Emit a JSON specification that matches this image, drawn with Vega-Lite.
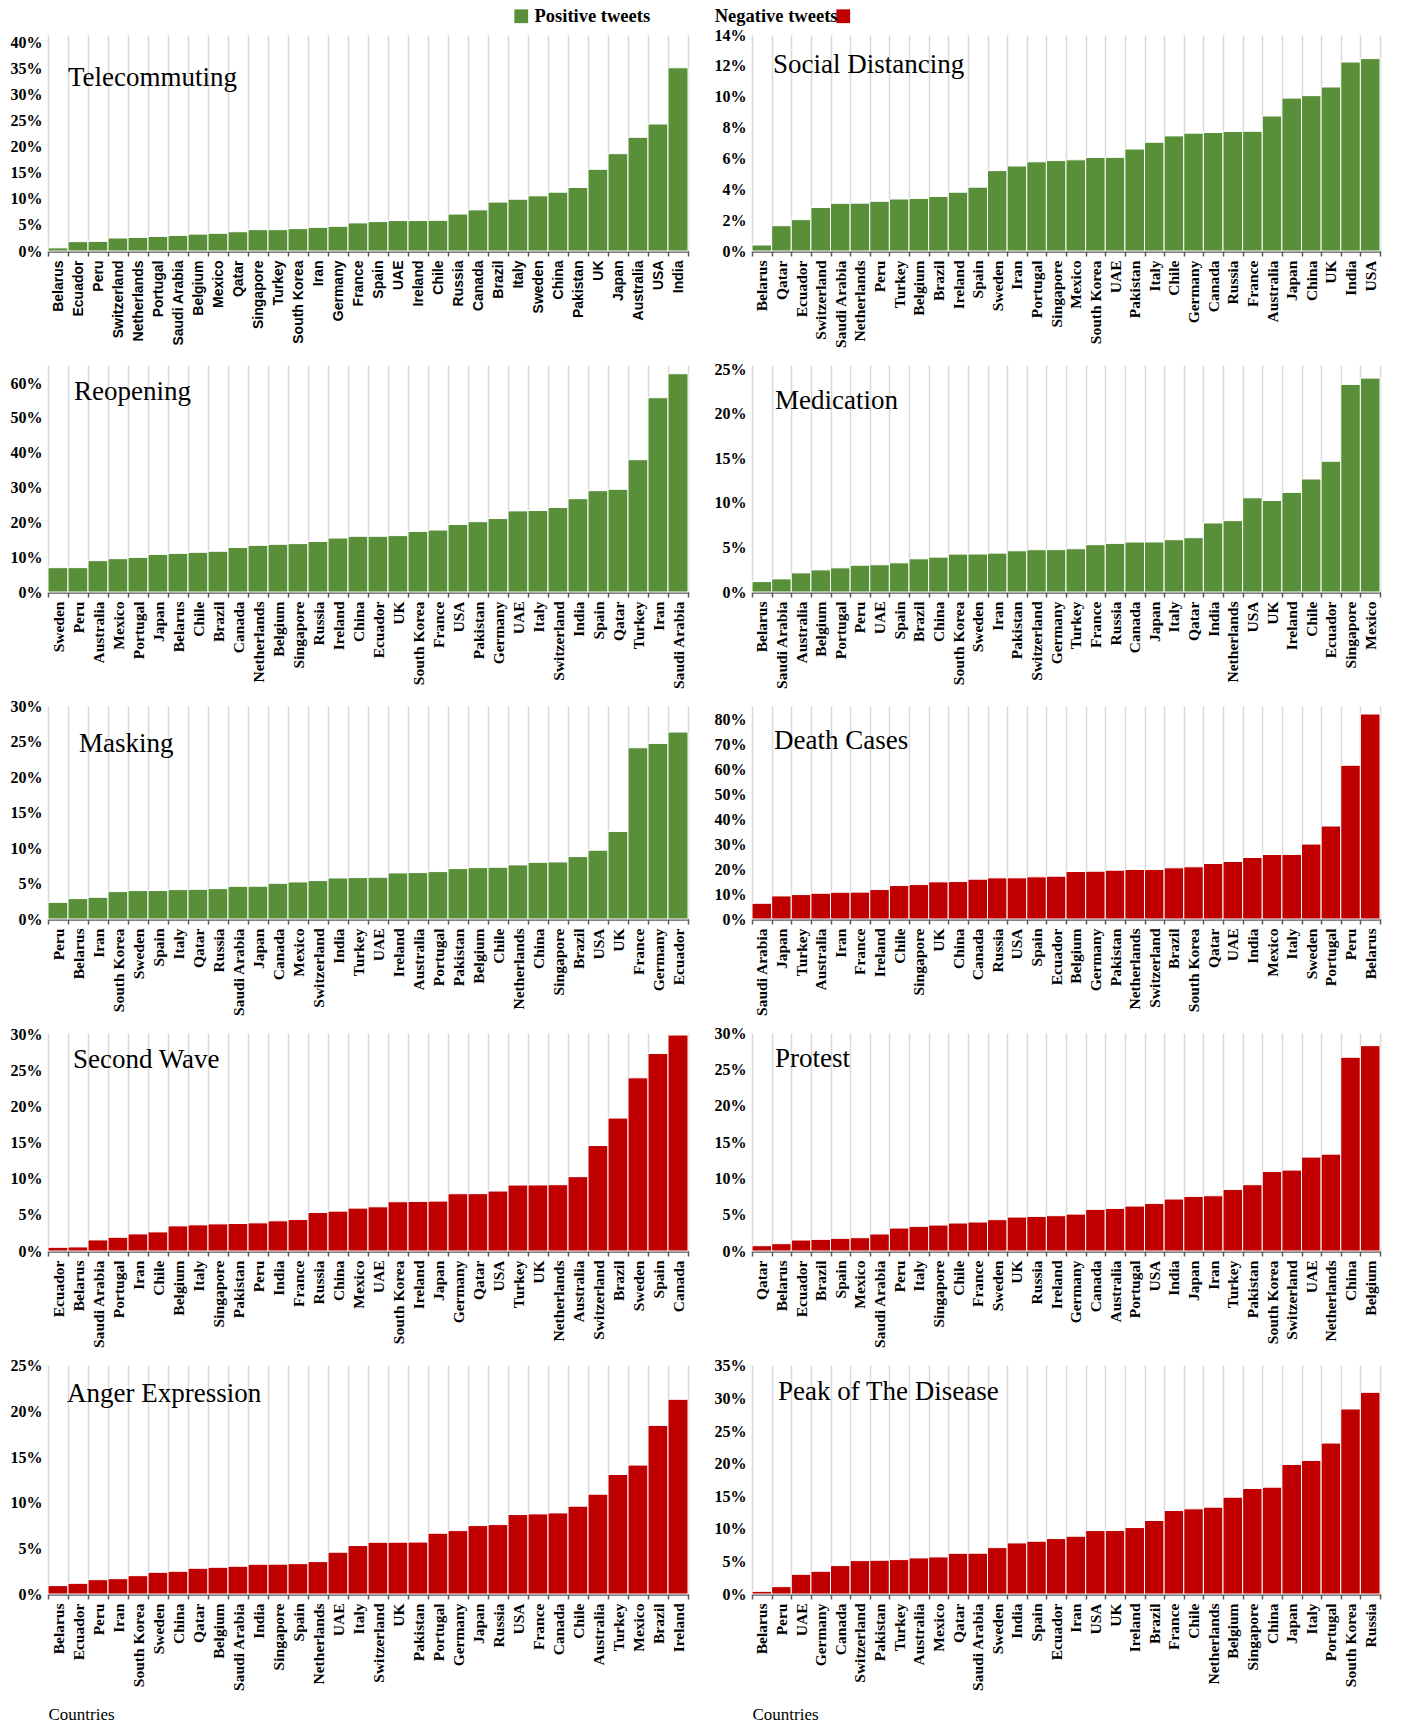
{
  "$schema": "https://vega.github.io/schema/vega-lite/v6.json",
  "background": "white",
  "padding": {"left": 10, "top": 7, "right": 5, "bottom": 5},
  "columns": 2,
  "spacing": {"row": 114, "column": 64},
  "bounds": "flush",
  "datasets": {
    "d": [
      {"t":"Telecommuting","c":"Belarus","v":0.6,"s":"Positive tweets"},
      {"t":"Telecommuting","c":"Ecuador","v":1.8,"s":"Positive tweets"},
      {"t":"Telecommuting","c":"Peru","v":1.85,"s":"Positive tweets"},
      {"t":"Telecommuting","c":"Switzerland","v":2.5,"s":"Positive tweets"},
      {"t":"Telecommuting","c":"Netherlands","v":2.6,"s":"Positive tweets"},
      {"t":"Telecommuting","c":"Portugal","v":2.8,"s":"Positive tweets"},
      {"t":"Telecommuting","c":"Saudi Arabia","v":3.0,"s":"Positive tweets"},
      {"t":"Telecommuting","c":"Belgium","v":3.25,"s":"Positive tweets"},
      {"t":"Telecommuting","c":"Mexico","v":3.4,"s":"Positive tweets"},
      {"t":"Telecommuting","c":"Qatar","v":3.7,"s":"Positive tweets"},
      {"t":"Telecommuting","c":"Singapore","v":4.1,"s":"Positive tweets"},
      {"t":"Telecommuting","c":"Turkey","v":4.1,"s":"Positive tweets"},
      {"t":"Telecommuting","c":"South Korea","v":4.3,"s":"Positive tweets"},
      {"t":"Telecommuting","c":"Iran","v":4.55,"s":"Positive tweets"},
      {"t":"Telecommuting","c":"Germany","v":4.75,"s":"Positive tweets"},
      {"t":"Telecommuting","c":"France","v":5.4,"s":"Positive tweets"},
      {"t":"Telecommuting","c":"Spain","v":5.65,"s":"Positive tweets"},
      {"t":"Telecommuting","c":"UAE","v":5.85,"s":"Positive tweets"},
      {"t":"Telecommuting","c":"Ireland","v":5.85,"s":"Positive tweets"},
      {"t":"Telecommuting","c":"Chile","v":5.9,"s":"Positive tweets"},
      {"t":"Telecommuting","c":"Russia","v":7.1,"s":"Positive tweets"},
      {"t":"Telecommuting","c":"Canada","v":7.9,"s":"Positive tweets"},
      {"t":"Telecommuting","c":"Brazil","v":9.4,"s":"Positive tweets"},
      {"t":"Telecommuting","c":"Italy","v":9.95,"s":"Positive tweets"},
      {"t":"Telecommuting","c":"Sweden","v":10.6,"s":"Positive tweets"},
      {"t":"Telecommuting","c":"China","v":11.3,"s":"Positive tweets"},
      {"t":"Telecommuting","c":"Pakistan","v":12.2,"s":"Positive tweets"},
      {"t":"Telecommuting","c":"UK","v":15.7,"s":"Positive tweets"},
      {"t":"Telecommuting","c":"Japan","v":18.7,"s":"Positive tweets"},
      {"t":"Telecommuting","c":"Australia","v":21.85,"s":"Positive tweets"},
      {"t":"Telecommuting","c":"USA","v":24.4,"s":"Positive tweets"},
      {"t":"Telecommuting","c":"India","v":35.2,"s":"Positive tweets"},

      {"t":"Social Distancing","c":"Belarus","v":0.39,"s":"Positive tweets"},
      {"t":"Social Distancing","c":"Qatar","v":1.64,"s":"Positive tweets"},
      {"t":"Social Distancing","c":"Ecuador","v":2.03,"s":"Positive tweets"},
      {"t":"Social Distancing","c":"Switzerland","v":2.82,"s":"Positive tweets"},
      {"t":"Social Distancing","c":"Saudi Arabia","v":3.09,"s":"Positive tweets"},
      {"t":"Social Distancing","c":"Netherlands","v":3.1,"s":"Positive tweets"},
      {"t":"Social Distancing","c":"Peru","v":3.22,"s":"Positive tweets"},
      {"t":"Social Distancing","c":"Turkey","v":3.37,"s":"Positive tweets"},
      {"t":"Social Distancing","c":"Belgium","v":3.41,"s":"Positive tweets"},
      {"t":"Social Distancing","c":"Brazil","v":3.54,"s":"Positive tweets"},
      {"t":"Social Distancing","c":"Ireland","v":3.81,"s":"Positive tweets"},
      {"t":"Social Distancing","c":"Spain","v":4.14,"s":"Positive tweets"},
      {"t":"Social Distancing","c":"Sweden","v":5.21,"s":"Positive tweets"},
      {"t":"Social Distancing","c":"Iran","v":5.51,"s":"Positive tweets"},
      {"t":"Social Distancing","c":"Portugal","v":5.78,"s":"Positive tweets"},
      {"t":"Social Distancing","c":"Singapore","v":5.86,"s":"Positive tweets"},
      {"t":"Social Distancing","c":"Mexico","v":5.91,"s":"Positive tweets"},
      {"t":"Social Distancing","c":"South Korea","v":6.06,"s":"Positive tweets"},
      {"t":"Social Distancing","c":"UAE","v":6.07,"s":"Positive tweets"},
      {"t":"Social Distancing","c":"Pakistan","v":6.61,"s":"Positive tweets"},
      {"t":"Social Distancing","c":"Italy","v":7.05,"s":"Positive tweets"},
      {"t":"Social Distancing","c":"Chile","v":7.46,"s":"Positive tweets"},
      {"t":"Social Distancing","c":"Germany","v":7.64,"s":"Positive tweets"},
      {"t":"Social Distancing","c":"Canada","v":7.68,"s":"Positive tweets"},
      {"t":"Social Distancing","c":"Russia","v":7.75,"s":"Positive tweets"},
      {"t":"Social Distancing","c":"France","v":7.76,"s":"Positive tweets"},
      {"t":"Social Distancing","c":"Australia","v":8.75,"s":"Positive tweets"},
      {"t":"Social Distancing","c":"Japan","v":9.91,"s":"Positive tweets"},
      {"t":"Social Distancing","c":"China","v":10.07,"s":"Positive tweets"},
      {"t":"Social Distancing","c":"UK","v":10.63,"s":"Positive tweets"},
      {"t":"Social Distancing","c":"India","v":12.25,"s":"Positive tweets"},
      {"t":"Social Distancing","c":"USA","v":12.47,"s":"Positive tweets"},

      {"t":"Reopening","c":"Sweden","v":6.99,"s":"Positive tweets"},
      {"t":"Reopening","c":"Peru","v":7.0,"s":"Positive tweets"},
      {"t":"Reopening","c":"Australia","v":9.0,"s":"Positive tweets"},
      {"t":"Reopening","c":"Mexico","v":9.57,"s":"Positive tweets"},
      {"t":"Reopening","c":"Portugal","v":9.95,"s":"Positive tweets"},
      {"t":"Reopening","c":"Japan","v":10.8,"s":"Positive tweets"},
      {"t":"Reopening","c":"Belarus","v":11.1,"s":"Positive tweets"},
      {"t":"Reopening","c":"Chile","v":11.4,"s":"Positive tweets"},
      {"t":"Reopening","c":"Brazil","v":11.7,"s":"Positive tweets"},
      {"t":"Reopening","c":"Canada","v":12.8,"s":"Positive tweets"},
      {"t":"Reopening","c":"Netherlands","v":13.4,"s":"Positive tweets"},
      {"t":"Reopening","c":"Belgium","v":13.7,"s":"Positive tweets"},
      {"t":"Reopening","c":"Singapore","v":13.9,"s":"Positive tweets"},
      {"t":"Reopening","c":"Russia","v":14.5,"s":"Positive tweets"},
      {"t":"Reopening","c":"Ireland","v":15.5,"s":"Positive tweets"},
      {"t":"Reopening","c":"China","v":16.0,"s":"Positive tweets"},
      {"t":"Reopening","c":"Ecuador","v":16.0,"s":"Positive tweets"},
      {"t":"Reopening","c":"UK","v":16.2,"s":"Positive tweets"},
      {"t":"Reopening","c":"South Korea","v":17.4,"s":"Positive tweets"},
      {"t":"Reopening","c":"France","v":17.8,"s":"Positive tweets"},
      {"t":"Reopening","c":"USA","v":19.4,"s":"Positive tweets"},
      {"t":"Reopening","c":"Pakistan","v":20.2,"s":"Positive tweets"},
      {"t":"Reopening","c":"Germany","v":21.1,"s":"Positive tweets"},
      {"t":"Reopening","c":"UAE","v":23.3,"s":"Positive tweets"},
      {"t":"Reopening","c":"Italy","v":23.4,"s":"Positive tweets"},
      {"t":"Reopening","c":"Switzerland","v":24.3,"s":"Positive tweets"},
      {"t":"Reopening","c":"India","v":26.8,"s":"Positive tweets"},
      {"t":"Reopening","c":"Spain","v":29.1,"s":"Positive tweets"},
      {"t":"Reopening","c":"Qatar","v":29.5,"s":"Positive tweets"},
      {"t":"Reopening","c":"Turkey","v":38.0,"s":"Positive tweets"},
      {"t":"Reopening","c":"Iran","v":55.8,"s":"Positive tweets"},
      {"t":"Reopening","c":"Saudi Arabia","v":62.7,"s":"Positive tweets"},

      {"t":"Medication","c":"Belarus","v":1.17,"s":"Positive tweets"},
      {"t":"Medication","c":"Saudi Arabia","v":1.47,"s":"Positive tweets"},
      {"t":"Medication","c":"Australia","v":2.14,"s":"Positive tweets"},
      {"t":"Medication","c":"Belgium","v":2.48,"s":"Positive tweets"},
      {"t":"Medication","c":"Portugal","v":2.71,"s":"Positive tweets"},
      {"t":"Medication","c":"Peru","v":3.0,"s":"Positive tweets"},
      {"t":"Medication","c":"UAE","v":3.05,"s":"Positive tweets"},
      {"t":"Medication","c":"Spain","v":3.27,"s":"Positive tweets"},
      {"t":"Medication","c":"Brazil","v":3.72,"s":"Positive tweets"},
      {"t":"Medication","c":"China","v":3.91,"s":"Positive tweets"},
      {"t":"Medication","c":"South Korea","v":4.25,"s":"Positive tweets"},
      {"t":"Medication","c":"Sweden","v":4.26,"s":"Positive tweets"},
      {"t":"Medication","c":"Iran","v":4.36,"s":"Positive tweets"},
      {"t":"Medication","c":"Pakistan","v":4.62,"s":"Positive tweets"},
      {"t":"Medication","c":"Switzerland","v":4.74,"s":"Positive tweets"},
      {"t":"Medication","c":"Germany","v":4.75,"s":"Positive tweets"},
      {"t":"Medication","c":"Turkey","v":4.85,"s":"Positive tweets"},
      {"t":"Medication","c":"France","v":5.3,"s":"Positive tweets"},
      {"t":"Medication","c":"Russia","v":5.45,"s":"Positive tweets"},
      {"t":"Medication","c":"Canada","v":5.6,"s":"Positive tweets"},
      {"t":"Medication","c":"Japan","v":5.61,"s":"Positive tweets"},
      {"t":"Medication","c":"Italy","v":5.86,"s":"Positive tweets"},
      {"t":"Medication","c":"Qatar","v":6.09,"s":"Positive tweets"},
      {"t":"Medication","c":"India","v":7.74,"s":"Positive tweets"},
      {"t":"Medication","c":"Netherlands","v":8.0,"s":"Positive tweets"},
      {"t":"Medication","c":"USA","v":10.56,"s":"Positive tweets"},
      {"t":"Medication","c":"UK","v":10.26,"s":"Positive tweets"},
      {"t":"Medication","c":"Ireland","v":11.17,"s":"Positive tweets"},
      {"t":"Medication","c":"Chile","v":12.67,"s":"Positive tweets"},
      {"t":"Medication","c":"Ecuador","v":14.66,"s":"Positive tweets"},
      {"t":"Medication","c":"Singapore","v":23.27,"s":"Positive tweets"},
      {"t":"Medication","c":"Mexico","v":23.98,"s":"Positive tweets"},

      {"t":"Masking","c":"Peru","v":2.35,"s":"Positive tweets"},
      {"t":"Masking","c":"Belarus","v":2.87,"s":"Positive tweets"},
      {"t":"Masking","c":"Iran","v":3.06,"s":"Positive tweets"},
      {"t":"Masking","c":"South Korea","v":3.86,"s":"Positive tweets"},
      {"t":"Masking","c":"Sweden","v":4.0,"s":"Positive tweets"},
      {"t":"Masking","c":"Spain","v":4.01,"s":"Positive tweets"},
      {"t":"Masking","c":"Italy","v":4.14,"s":"Positive tweets"},
      {"t":"Masking","c":"Qatar","v":4.18,"s":"Positive tweets"},
      {"t":"Masking","c":"Russia","v":4.28,"s":"Positive tweets"},
      {"t":"Masking","c":"Saudi Arabia","v":4.61,"s":"Positive tweets"},
      {"t":"Masking","c":"Japan","v":4.62,"s":"Positive tweets"},
      {"t":"Masking","c":"Canada","v":5.03,"s":"Positive tweets"},
      {"t":"Masking","c":"Mexico","v":5.22,"s":"Positive tweets"},
      {"t":"Masking","c":"Switzerland","v":5.41,"s":"Positive tweets"},
      {"t":"Masking","c":"India","v":5.78,"s":"Positive tweets"},
      {"t":"Masking","c":"Turkey","v":5.83,"s":"Positive tweets"},
      {"t":"Masking","c":"UAE","v":5.88,"s":"Positive tweets"},
      {"t":"Masking","c":"Ireland","v":6.49,"s":"Positive tweets"},
      {"t":"Masking","c":"Australia","v":6.54,"s":"Positive tweets"},
      {"t":"Masking","c":"Portugal","v":6.68,"s":"Positive tweets"},
      {"t":"Masking","c":"Pakistan","v":7.1,"s":"Positive tweets"},
      {"t":"Masking","c":"Belgium","v":7.24,"s":"Positive tweets"},
      {"t":"Masking","c":"Chile","v":7.29,"s":"Positive tweets"},
      {"t":"Masking","c":"Netherlands","v":7.62,"s":"Positive tweets"},
      {"t":"Masking","c":"China","v":7.99,"s":"Positive tweets"},
      {"t":"Masking","c":"Singapore","v":8.04,"s":"Positive tweets"},
      {"t":"Masking","c":"Brazil","v":8.79,"s":"Positive tweets"},
      {"t":"Masking","c":"USA","v":9.69,"s":"Positive tweets"},
      {"t":"Masking","c":"UK","v":12.32,"s":"Positive tweets"},
      {"t":"Masking","c":"France","v":24.12,"s":"Positive tweets"},
      {"t":"Masking","c":"Germany","v":24.73,"s":"Positive tweets"},
      {"t":"Masking","c":"Ecuador","v":26.33,"s":"Positive tweets"},

      {"t":"Death Cases","c":"Saudi Arabia","v":6.29,"s":"Negative tweets"},
      {"t":"Death Cases","c":"Japan","v":9.23,"s":"Negative tweets"},
      {"t":"Death Cases","c":"Turkey","v":9.77,"s":"Negative tweets"},
      {"t":"Death Cases","c":"Australia","v":10.3,"s":"Negative tweets"},
      {"t":"Death Cases","c":"Iran","v":10.7,"s":"Negative tweets"},
      {"t":"Death Cases","c":"France","v":10.75,"s":"Negative tweets"},
      {"t":"Death Cases","c":"Ireland","v":11.77,"s":"Negative tweets"},
      {"t":"Death Cases","c":"Chile","v":13.38,"s":"Negative tweets"},
      {"t":"Death Cases","c":"Singapore","v":13.78,"s":"Negative tweets"},
      {"t":"Death Cases","c":"UK","v":14.85,"s":"Negative tweets"},
      {"t":"Death Cases","c":"China","v":14.98,"s":"Negative tweets"},
      {"t":"Death Cases","c":"Canada","v":15.92,"s":"Negative tweets"},
      {"t":"Death Cases","c":"Russia","v":16.45,"s":"Negative tweets"},
      {"t":"Death Cases","c":"USA","v":16.46,"s":"Negative tweets"},
      {"t":"Death Cases","c":"Spain","v":16.86,"s":"Negative tweets"},
      {"t":"Death Cases","c":"Ecuador","v":17.12,"s":"Negative tweets"},
      {"t":"Death Cases","c":"Belgium","v":19.0,"s":"Negative tweets"},
      {"t":"Death Cases","c":"Germany","v":19.13,"s":"Negative tweets"},
      {"t":"Death Cases","c":"Pakistan","v":19.53,"s":"Negative tweets"},
      {"t":"Death Cases","c":"Netherlands","v":19.8,"s":"Negative tweets"},
      {"t":"Death Cases","c":"Switzerland","v":19.81,"s":"Negative tweets"},
      {"t":"Death Cases","c":"Brazil","v":20.47,"s":"Negative tweets"},
      {"t":"Death Cases","c":"South Korea","v":20.87,"s":"Negative tweets"},
      {"t":"Death Cases","c":"Qatar","v":22.2,"s":"Negative tweets"},
      {"t":"Death Cases","c":"UAE","v":23.0,"s":"Negative tweets"},
      {"t":"Death Cases","c":"India","v":24.6,"s":"Negative tweets"},
      {"t":"Death Cases","c":"Mexico","v":25.8,"s":"Negative tweets"},
      {"t":"Death Cases","c":"Italy","v":25.85,"s":"Negative tweets"},
      {"t":"Death Cases","c":"Sweden","v":29.97,"s":"Negative tweets"},
      {"t":"Death Cases","c":"Portugal","v":37.2,"s":"Negative tweets"},
      {"t":"Death Cases","c":"Peru","v":61.5,"s":"Negative tweets"},
      {"t":"Death Cases","c":"Belarus","v":82.0,"s":"Negative tweets"},

      {"t":"Second Wave","c":"Ecuador","v":0.51,"s":"Negative tweets"},
      {"t":"Second Wave","c":"Belarus","v":0.56,"s":"Negative tweets"},
      {"t":"Second Wave","c":"Saudi Arabia","v":1.53,"s":"Negative tweets"},
      {"t":"Second Wave","c":"Portugal","v":1.9,"s":"Negative tweets"},
      {"t":"Second Wave","c":"Iran","v":2.36,"s":"Negative tweets"},
      {"t":"Second Wave","c":"Chile","v":2.64,"s":"Negative tweets"},
      {"t":"Second Wave","c":"Belgium","v":3.47,"s":"Negative tweets"},
      {"t":"Second Wave","c":"Italy","v":3.61,"s":"Negative tweets"},
      {"t":"Second Wave","c":"Singapore","v":3.75,"s":"Negative tweets"},
      {"t":"Second Wave","c":"Pakistan","v":3.8,"s":"Negative tweets"},
      {"t":"Second Wave","c":"Peru","v":3.89,"s":"Negative tweets"},
      {"t":"Second Wave","c":"India","v":4.17,"s":"Negative tweets"},
      {"t":"Second Wave","c":"France","v":4.35,"s":"Negative tweets"},
      {"t":"Second Wave","c":"Russia","v":5.32,"s":"Negative tweets"},
      {"t":"Second Wave","c":"China","v":5.51,"s":"Negative tweets"},
      {"t":"Second Wave","c":"Mexico","v":5.93,"s":"Negative tweets"},
      {"t":"Second Wave","c":"UAE","v":6.11,"s":"Negative tweets"},
      {"t":"Second Wave","c":"South Korea","v":6.81,"s":"Negative tweets"},
      {"t":"Second Wave","c":"Ireland","v":6.85,"s":"Negative tweets"},
      {"t":"Second Wave","c":"Japan","v":6.9,"s":"Negative tweets"},
      {"t":"Second Wave","c":"Germany","v":7.92,"s":"Negative tweets"},
      {"t":"Second Wave","c":"Qatar","v":7.93,"s":"Negative tweets"},
      {"t":"Second Wave","c":"USA","v":8.29,"s":"Negative tweets"},
      {"t":"Second Wave","c":"Turkey","v":9.12,"s":"Negative tweets"},
      {"t":"Second Wave","c":"UK","v":9.13,"s":"Negative tweets"},
      {"t":"Second Wave","c":"Netherlands","v":9.17,"s":"Negative tweets"},
      {"t":"Second Wave","c":"Australia","v":10.28,"s":"Negative tweets"},
      {"t":"Second Wave","c":"Switzerland","v":14.58,"s":"Negative tweets"},
      {"t":"Second Wave","c":"Brazil","v":18.38,"s":"Negative tweets"},
      {"t":"Second Wave","c":"Sweden","v":23.94,"s":"Negative tweets"},
      {"t":"Second Wave","c":"Spain","v":27.31,"s":"Negative tweets"},
      {"t":"Second Wave","c":"Canada","v":29.86,"s":"Negative tweets"},

      {"t":"Protest","c":"Qatar","v":0.73,"s":"Negative tweets"},
      {"t":"Protest","c":"Belarus","v":1.01,"s":"Negative tweets"},
      {"t":"Protest","c":"Ecuador","v":1.51,"s":"Negative tweets"},
      {"t":"Protest","c":"Brazil","v":1.6,"s":"Negative tweets"},
      {"t":"Protest","c":"Spain","v":1.74,"s":"Negative tweets"},
      {"t":"Protest","c":"Mexico","v":1.83,"s":"Negative tweets"},
      {"t":"Protest","c":"Saudi Arabia","v":2.34,"s":"Negative tweets"},
      {"t":"Protest","c":"Peru","v":3.16,"s":"Negative tweets"},
      {"t":"Protest","c":"Italy","v":3.39,"s":"Negative tweets"},
      {"t":"Protest","c":"Singapore","v":3.57,"s":"Negative tweets"},
      {"t":"Protest","c":"Chile","v":3.85,"s":"Negative tweets"},
      {"t":"Protest","c":"France","v":3.99,"s":"Negative tweets"},
      {"t":"Protest","c":"Sweden","v":4.31,"s":"Negative tweets"},
      {"t":"Protest","c":"UK","v":4.67,"s":"Negative tweets"},
      {"t":"Protest","c":"Russia","v":4.76,"s":"Negative tweets"},
      {"t":"Protest","c":"Ireland","v":4.86,"s":"Negative tweets"},
      {"t":"Protest","c":"Germany","v":5.08,"s":"Negative tweets"},
      {"t":"Protest","c":"Canada","v":5.73,"s":"Negative tweets"},
      {"t":"Protest","c":"Australia","v":5.86,"s":"Negative tweets"},
      {"t":"Protest","c":"Portugal","v":6.18,"s":"Negative tweets"},
      {"t":"Protest","c":"USA","v":6.55,"s":"Negative tweets"},
      {"t":"Protest","c":"India","v":7.15,"s":"Negative tweets"},
      {"t":"Protest","c":"Japan","v":7.51,"s":"Negative tweets"},
      {"t":"Protest","c":"Iran","v":7.6,"s":"Negative tweets"},
      {"t":"Protest","c":"Turkey","v":8.47,"s":"Negative tweets"},
      {"t":"Protest","c":"Pakistan","v":9.12,"s":"Negative tweets"},
      {"t":"Protest","c":"South Korea","v":10.95,"s":"Negative tweets"},
      {"t":"Protest","c":"Switzerland","v":11.13,"s":"Negative tweets"},
      {"t":"Protest","c":"UAE","v":12.92,"s":"Negative tweets"},
      {"t":"Protest","c":"Netherlands","v":13.33,"s":"Negative tweets"},
      {"t":"Protest","c":"China","v":26.66,"s":"Negative tweets"},
      {"t":"Protest","c":"Belgium","v":28.26,"s":"Negative tweets"},

      {"t":"Anger Expression","c":"Belarus","v":0.92,"s":"Negative tweets"},
      {"t":"Anger Expression","c":"Ecuador","v":1.17,"s":"Negative tweets"},
      {"t":"Anger Expression","c":"Peru","v":1.57,"s":"Negative tweets"},
      {"t":"Anger Expression","c":"Iran","v":1.68,"s":"Negative tweets"},
      {"t":"Anger Expression","c":"South Korea","v":2.01,"s":"Negative tweets"},
      {"t":"Anger Expression","c":"Sweden","v":2.38,"s":"Negative tweets"},
      {"t":"Anger Expression","c":"China","v":2.49,"s":"Negative tweets"},
      {"t":"Anger Expression","c":"Qatar","v":2.82,"s":"Negative tweets"},
      {"t":"Anger Expression","c":"Belgium","v":2.93,"s":"Negative tweets"},
      {"t":"Anger Expression","c":"Saudi Arabia","v":3.04,"s":"Negative tweets"},
      {"t":"Anger Expression","c":"India","v":3.26,"s":"Negative tweets"},
      {"t":"Anger Expression","c":"Singapore","v":3.27,"s":"Negative tweets"},
      {"t":"Anger Expression","c":"Spain","v":3.33,"s":"Negative tweets"},
      {"t":"Anger Expression","c":"Netherlands","v":3.55,"s":"Negative tweets"},
      {"t":"Anger Expression","c":"UAE","v":4.58,"s":"Negative tweets"},
      {"t":"Anger Expression","c":"Italy","v":5.31,"s":"Negative tweets"},
      {"t":"Anger Expression","c":"Switzerland","v":5.67,"s":"Negative tweets"},
      {"t":"Anger Expression","c":"UK","v":5.68,"s":"Negative tweets"},
      {"t":"Anger Expression","c":"Pakistan","v":5.69,"s":"Negative tweets"},
      {"t":"Anger Expression","c":"Portugal","v":6.66,"s":"Negative tweets"},
      {"t":"Anger Expression","c":"Germany","v":6.95,"s":"Negative tweets"},
      {"t":"Anger Expression","c":"Japan","v":7.5,"s":"Negative tweets"},
      {"t":"Anger Expression","c":"Russia","v":7.61,"s":"Negative tweets"},
      {"t":"Anger Expression","c":"USA","v":8.71,"s":"Negative tweets"},
      {"t":"Anger Expression","c":"France","v":8.78,"s":"Negative tweets"},
      {"t":"Anger Expression","c":"Canada","v":8.89,"s":"Negative tweets"},
      {"t":"Anger Expression","c":"Chile","v":9.63,"s":"Negative tweets"},
      {"t":"Anger Expression","c":"Australia","v":10.94,"s":"Negative tweets"},
      {"t":"Anger Expression","c":"Turkey","v":13.1,"s":"Negative tweets"},
      {"t":"Anger Expression","c":"Mexico","v":14.13,"s":"Negative tweets"},
      {"t":"Anger Expression","c":"Brazil","v":18.48,"s":"Negative tweets"},
      {"t":"Anger Expression","c":"Ireland","v":21.34,"s":"Negative tweets"},

      {"t":"Peak of The Disease","c":"Belarus","v":0.41,"s":"Negative tweets"},
      {"t":"Peak of The Disease","c":"Peru","v":1.13,"s":"Negative tweets"},
      {"t":"Peak of The Disease","c":"UAE","v":3.02,"s":"Negative tweets"},
      {"t":"Peak of The Disease","c":"Germany","v":3.49,"s":"Negative tweets"},
      {"t":"Peak of The Disease","c":"Canada","v":4.36,"s":"Negative tweets"},
      {"t":"Peak of The Disease","c":"Switzerland","v":5.13,"s":"Negative tweets"},
      {"t":"Peak of The Disease","c":"Pakistan","v":5.18,"s":"Negative tweets"},
      {"t":"Peak of The Disease","c":"Turkey","v":5.28,"s":"Negative tweets"},
      {"t":"Peak of The Disease","c":"Australia","v":5.54,"s":"Negative tweets"},
      {"t":"Peak of The Disease","c":"Mexico","v":5.69,"s":"Negative tweets"},
      {"t":"Peak of The Disease","c":"Qatar","v":6.25,"s":"Negative tweets"},
      {"t":"Peak of The Disease","c":"Saudi Arabia","v":6.26,"s":"Negative tweets"},
      {"t":"Peak of The Disease","c":"Sweden","v":7.12,"s":"Negative tweets"},
      {"t":"Peak of The Disease","c":"India","v":7.84,"s":"Negative tweets"},
      {"t":"Peak of The Disease","c":"Spain","v":8.1,"s":"Negative tweets"},
      {"t":"Peak of The Disease","c":"Ecuador","v":8.51,"s":"Negative tweets"},
      {"t":"Peak of The Disease","c":"Iran","v":8.87,"s":"Negative tweets"},
      {"t":"Peak of The Disease","c":"USA","v":9.74,"s":"Negative tweets"},
      {"t":"Peak of The Disease","c":"UK","v":9.75,"s":"Negative tweets"},
      {"t":"Peak of The Disease","c":"Ireland","v":10.2,"s":"Negative tweets"},
      {"t":"Peak of The Disease","c":"Brazil","v":11.28,"s":"Negative tweets"},
      {"t":"Peak of The Disease","c":"France","v":12.81,"s":"Negative tweets"},
      {"t":"Peak of The Disease","c":"Chile","v":13.07,"s":"Negative tweets"},
      {"t":"Peak of The Disease","c":"Netherlands","v":13.33,"s":"Negative tweets"},
      {"t":"Peak of The Disease","c":"Belgium","v":14.86,"s":"Negative tweets"},
      {"t":"Peak of The Disease","c":"Singapore","v":16.2,"s":"Negative tweets"},
      {"t":"Peak of The Disease","c":"China","v":16.4,"s":"Negative tweets"},
      {"t":"Peak of The Disease","c":"Japan","v":19.89,"s":"Negative tweets"},
      {"t":"Peak of The Disease","c":"Italy","v":20.5,"s":"Negative tweets"},
      {"t":"Peak of The Disease","c":"Portugal","v":23.17,"s":"Negative tweets"},
      {"t":"Peak of The Disease","c":"South Korea","v":28.4,"s":"Negative tweets"},
      {"t":"Peak of The Disease","c":"Russia","v":30.96,"s":"Negative tweets"}
    ]
  },
  "concat": [
    {
      "width": 640, "height": 216,
      "data": {"name": "d"},
      "transform": [{"filter": "datum.t === 'Telecommuting'"}],
      "title": {"text": "Telecommuting", "dx": 20, "dy": 89},
      "mark": {"type": "bar", "stroke": "white", "strokeWidth": 1},
      "encoding": {
        "x": {"field": "c", "type": "nominal", "sort": null, "scale": {"paddingInner": 0, "paddingOuter": 0},
              "axis": {"grid": true, "labelFont": "Liberation Sans", "labelFontSize": 14}},
        "y": {"field": "v", "type": "quantitative", "scale": {"domain": [0, 41.5], "nice": false},
              "axis": {"values": [0, 5, 10, 15, 20, 25, 30, 35, 40]}},
        "color": {"field": "s", "type": "nominal",
                  "scale": {"domain": ["Positive tweets", "Negative tweets"], "range": ["#5a8f3a", "#c00000"]},
                  "legend": {"values": ["Positive tweets"], "orient": "none", "legendX": 464, "legendY": -28}}
      }
    },
    {
      "width": 628, "height": 216,
      "data": {"name": "d"},
      "transform": [{"filter": "datum.t === 'Social Distancing'"}],
      "title": {"text": "Social Distancing", "dx": 21, "dy": 76},
      "mark": {"type": "bar", "stroke": "white", "strokeWidth": 1},
      "encoding": {
        "x": {"field": "c", "type": "nominal", "sort": null, "scale": {"paddingInner": 0, "paddingOuter": 0},
              "axis": {"grid": true}},
        "y": {"field": "v", "type": "quantitative", "scale": {"domain": [0, 14], "nice": false},
              "axis": {"values": [0, 2, 4, 6, 8, 10, 12, 14]}},
        "color": {"field": "s", "type": "nominal",
                  "scale": {"domain": ["Positive tweets", "Negative tweets"], "range": ["#5a8f3a", "#c00000"]},
                  "legend": {"values": ["Negative tweets"], "orient": "none", "legendX": 82, "legendY": -28,
                             "labelAlign": "right", "labelOffset": -15}}
      }
    },
    {
      "width": 640, "height": 227,
      "data": {"name": "d"},
      "transform": [{"filter": "datum.t === 'Reopening'"}],
      "title": {"text": "Reopening", "dx": 26, "dy": 45},
      "mark": {"type": "bar", "stroke": "white", "strokeWidth": 1},
      "encoding": {
        "x": {"field": "c", "type": "nominal", "sort": null, "scale": {"paddingInner": 0, "paddingOuter": 0},
              "axis": {"grid": true}},
        "y": {"field": "v", "type": "quantitative", "scale": {"domain": [0, 65.2], "nice": false},
              "axis": {"values": [0, 10, 20, 30, 40, 50, 60]}},
        "color": {"field": "s", "type": "nominal",
                  "scale": {"domain": ["Positive tweets", "Negative tweets"], "range": ["#5a8f3a", "#c00000"]},
                  "legend": null}
      }
    },
    {
      "width": 628, "height": 227,
      "data": {"name": "d"},
      "transform": [{"filter": "datum.t === 'Medication'"}],
      "title": {"text": "Medication", "dx": 23, "dy": 58},
      "mark": {"type": "bar", "stroke": "white", "strokeWidth": 1},
      "encoding": {
        "x": {"field": "c", "type": "nominal", "sort": null, "scale": {"paddingInner": 0, "paddingOuter": 0},
              "axis": {"grid": true}},
        "y": {"field": "v", "type": "quantitative", "scale": {"domain": [0, 25.45], "nice": false},
              "axis": {"values": [0, 5, 10, 15, 20, 25]}},
        "color": {"field": "s", "type": "nominal",
                  "scale": {"domain": ["Positive tweets", "Negative tweets"], "range": ["#5a8f3a", "#c00000"]},
                  "legend": null}
      }
    },
    {
      "width": 640, "height": 213,
      "data": {"name": "d"},
      "transform": [{"filter": "datum.t === 'Masking'"}],
      "title": {"text": "Masking", "dx": 31, "dy": 64},
      "mark": {"type": "bar", "stroke": "white", "strokeWidth": 1},
      "encoding": {
        "x": {"field": "c", "type": "nominal", "sort": null, "scale": {"paddingInner": 0, "paddingOuter": 0},
              "axis": {"grid": true}},
        "y": {"field": "v", "type": "quantitative", "scale": {"domain": [0, 30], "nice": false},
              "axis": {"values": [0, 5, 10, 15, 20, 25, 30]}},
        "color": {"field": "s", "type": "nominal",
                  "scale": {"domain": ["Positive tweets", "Negative tweets"], "range": ["#5a8f3a", "#c00000"]},
                  "legend": null}
      }
    },
    {
      "width": 628, "height": 213,
      "data": {"name": "d"},
      "transform": [{"filter": "datum.t === 'Death Cases'"}],
      "title": {"text": "Death Cases", "dx": 22, "dy": 53},
      "mark": {"type": "bar", "stroke": "white", "strokeWidth": 1},
      "encoding": {
        "x": {"field": "c", "type": "nominal", "sort": null, "scale": {"paddingInner": 0, "paddingOuter": 0},
              "axis": {"grid": true}},
        "y": {"field": "v", "type": "quantitative", "scale": {"domain": [0, 85.2], "nice": false},
              "axis": {"values": [0, 10, 20, 30, 40, 50, 60, 70, 80]}},
        "color": {"field": "s", "type": "nominal",
                  "scale": {"domain": ["Positive tweets", "Negative tweets"], "range": ["#5a8f3a", "#c00000"]},
                  "legend": null}
      }
    },
    {
      "width": 640, "height": 218,
      "data": {"name": "d"},
      "transform": [{"filter": "datum.t === 'Second Wave'"}],
      "title": {"text": "Second Wave", "dx": 25, "dy": 52},
      "mark": {"type": "bar", "stroke": "white", "strokeWidth": 1},
      "encoding": {
        "x": {"field": "c", "type": "nominal", "sort": null, "scale": {"paddingInner": 0, "paddingOuter": 0},
              "axis": {"grid": true}},
        "y": {"field": "v", "type": "quantitative", "scale": {"domain": [0, 30.14], "nice": false},
              "axis": {"values": [0, 5, 10, 15, 20, 25, 30]}},
        "color": {"field": "s", "type": "nominal",
                  "scale": {"domain": ["Positive tweets", "Negative tweets"], "range": ["#5a8f3a", "#c00000"]},
                  "legend": null}
      }
    },
    {
      "width": 628, "height": 218,
      "data": {"name": "d"},
      "transform": [{"filter": "datum.t === 'Protest'"}],
      "title": {"text": "Protest", "dx": 23, "dy": 52},
      "mark": {"type": "bar", "stroke": "white", "strokeWidth": 1},
      "encoding": {
        "x": {"field": "c", "type": "nominal", "sort": null, "scale": {"paddingInner": 0, "paddingOuter": 0},
              "axis": {"grid": true}},
        "y": {"field": "v", "type": "quantitative", "scale": {"domain": [0, 30], "nice": false},
              "axis": {"values": [0, 5, 10, 15, 20, 25, 30]}},
        "color": {"field": "s", "type": "nominal",
                  "scale": {"domain": ["Positive tweets", "Negative tweets"], "range": ["#5a8f3a", "#c00000"]},
                  "legend": null}
      }
    },
    {
      "width": 640, "height": 229,
      "data": {"name": "d"},
      "transform": [{"filter": "datum.t === 'Anger Expression'"}],
      "title": {"text": "Anger Expression", "dx": 19, "dy": 54},
      "mark": {"type": "bar", "stroke": "white", "strokeWidth": 1},
      "encoding": {
        "x": {"field": "c", "type": "nominal", "sort": null, "scale": {"paddingInner": 0, "paddingOuter": 0},
              "axis": {"grid": true, "title": "Countries", "titleAnchor": "start", "titleAlign": "left",
                       "titleFont": "Liberation Serif", "titleFontWeight": "normal", "titleFontSize": 17,
                       "titleColor": "black", "titlePadding": 15}},
        "y": {"field": "v", "type": "quantitative", "scale": {"domain": [0, 25.1], "nice": false},
              "axis": {"values": [0, 5, 10, 15, 20, 25]}},
        "color": {"field": "s", "type": "nominal",
                  "scale": {"domain": ["Positive tweets", "Negative tweets"], "range": ["#5a8f3a", "#c00000"]},
                  "legend": null}
      }
    },
    {
      "width": 628, "height": 229,
      "data": {"name": "d"},
      "transform": [{"filter": "datum.t === 'Peak of The Disease'"}],
      "title": {"text": "Peak of The Disease", "dx": 26, "dy": 52},
      "mark": {"type": "bar", "stroke": "white", "strokeWidth": 1},
      "encoding": {
        "x": {"field": "c", "type": "nominal", "sort": null, "scale": {"paddingInner": 0, "paddingOuter": 0},
              "axis": {"grid": true, "title": "Countries", "titleAnchor": "start", "titleAlign": "left",
                       "titleFont": "Liberation Serif", "titleFontWeight": "normal", "titleFontSize": 17,
                       "titleColor": "black", "titlePadding": 15}},
        "y": {"field": "v", "type": "quantitative", "scale": {"domain": [0, 35.15], "nice": false},
              "axis": {"values": [0, 5, 10, 15, 20, 25, 30, 35]}},
        "color": {"field": "s", "type": "nominal",
                  "scale": {"domain": ["Positive tweets", "Negative tweets"], "range": ["#5a8f3a", "#c00000"]},
                  "legend": null}
      }
    }
  ],
  "resolve": {
    "scale": {"x": "independent", "y": "independent", "color": "shared"},
    "axis": {"x": "independent", "y": "independent"},
    "legend": {"color": "independent"}
  },
  "config": {
    "view": {"stroke": null},
    "font": "Liberation Serif",
    "title": {"anchor": "start", "frame": "group", "orient": "top", "offset": 0,
              "font": "Liberation Serif", "fontSize": 27, "fontWeight": "normal", "color": "black",
              "baseline": "alphabetic"},
    "axisX": {"title": null, "labelAngle": -90, "labelFont": "Liberation Serif", "labelFontWeight": "bold",
              "labelFontSize": 15.5, "labelColor": "black", "labelPadding": 4, "labelOverlap": false,
              "domainColor": "#595959", "domainWidth": 2.5, "tickColor": "#595959", "tickWidth": 1.5,
              "tickSize": 5, "tickBand": "extent", "grid": true, "gridColor": "#d9d9d9", "gridWidth": 1.5},
    "axisY": {"title": null, "grid": false, "domain": false, "ticks": false, "labelFont": "Liberation Serif",
              "labelFontWeight": "bold", "labelFontSize": 16, "labelColor": "black", "labelPadding": 6,
              "labelExpr": "datum.value + '%'"},
    "legend": {"title": null, "symbolType": "square", "symbolSize": 190, "symbolStrokeWidth": 0,
               "symbolOpacity": 1, "labelFont": "Liberation Serif", "labelFontWeight": "bold",
               "labelFontSize": 18.5, "labelColor": "black", "labelLimit": 0, "padding": 0}
  }
}
